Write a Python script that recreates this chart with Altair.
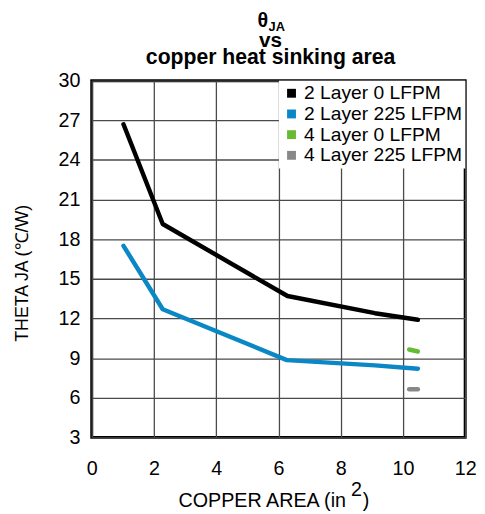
import altair as alt
import pandas as pd

# ---- data ----
series_names = ["2 Layer 0 LFPM", "2 Layer 225 LFPM", "4 Layer 0 LFPM", "4 Layer 225 LFPM"]
series_colors = ["#000000", "#0a87c5", "#66bb33", "#888888"]

area_2l_0lfpm = [1.02, 2.28, 6.29, 9.1, 10.48]
theta_2l_0lfpm = [26.7, 19.15, 13.7, 12.4, 11.9]

area_2l_225lfpm = [1.02, 2.28, 6.27, 9.1, 10.48]
theta_2l_225lfpm = [17.5, 12.7, 8.85, 8.45, 8.2]

area_4l_0lfpm = [10.2, 10.48]
theta_4l_0lfpm = [9.65, 9.5]

area_4l_225lfpm = [10.2, 10.48]
theta_4l_225lfpm = [6.64, 6.64]

x_ticks = [0, 2, 4, 6, 8, 10, 12]
y_ticks = [3, 6, 9, 12, 15, 18, 21, 24, 27, 30]

rows = []
for name, xs, ys in zip(
    series_names,
    [area_2l_0lfpm, area_2l_225lfpm, area_4l_0lfpm, area_4l_225lfpm],
    [theta_2l_0lfpm, theta_2l_225lfpm, theta_4l_0lfpm, theta_4l_225lfpm],
):
    for i, (x, y) in enumerate(zip(xs, ys)):
        rows.append({"series": name, "area": x, "theta": y, "order": i})
df = pd.DataFrame(rows)

W, H = 379, 362
FONT = "Liberation Sans"

x_enc = alt.X(
    "area:Q",
    scale=alt.Scale(domain=[0, 12], nice=False, zero=False),
    axis=alt.Axis(values=x_ticks, title=None, labelFontSize=20, labelFont=FONT,
                  labelColor="black", labelPadding=22, ticks=False, domain=False,
                  labelFlush=False),
)
y_enc = alt.Y(
    "theta:Q",
    scale=alt.Scale(domain=[3, 30], nice=False, zero=False),
    axis=alt.Axis(values=y_ticks, title="THETA JA (\u2103/W)", labelFontSize=20,
                  labelFont=FONT, labelColor="black", labelPadding=12, ticks=False,
                  domain=False, labelFlush=False, titleFont=FONT, titleFontSize=18,
                  titleFontWeight="normal", titleColor="black", titlePadding=27,
                  titleY=195),
)
color_scale = alt.Scale(domain=series_names, range=series_colors)
legend_cfg = dict(title=None, orient="top-right", offset=0, padding=3,
                  fillColor="white", symbolType="square", symbolSize=81,
                  symbolStrokeWidth=0, symbolOpacity=1, labelFontSize=19.5,
                  labelFont=FONT, labelColor="black", labelLimit=400, rowPadding=0,
                  labelOffset=3)

# legend-only layer (no rows drawn) so the legend shows filled squares
legend_layer = alt.Chart(df).transform_filter("false").mark_square(
    filled=True, opacity=1
).encode(
    x=x_enc,
    y=y_enc,
    color=alt.Color("series:N", scale=color_scale, legend=alt.Legend(**legend_cfg)),
)

lines = alt.Chart(df).mark_line(strokeWidth=4.5, strokeCap="round", strokeJoin="round").encode(
    x=x_enc,
    y=y_enc,
    color=alt.Color("series:N", scale=color_scale, legend=alt.Legend(**legend_cfg)),
    order="order:Q",
)


def label(text, x, y, size, weight="normal", align="center"):
    return alt.Chart(alt.Data(values=[{}])).mark_text(
        text=text, font=FONT, fontSize=size, fontWeight=weight, align=align,
        baseline="alphabetic", color="black",
    ).encode(x=alt.value(x), y=alt.value(y))


texts = [
    label("\u03b8", 179, -54, 20, "bold", "right"),
    label("JA", 179.5, -50, 13, "bold", "left"),
    label("vs", 181.5, -34, 21, "bold"),
    label("copper heat sinking area", 181.5, -17, 21.5, "bold"),
    label("COPPER AREA (in", 258, H + 71, 20, "normal", "right"),
    label("2", 263, H + 59, 20, "normal", "left"),
    label(")", 275, H + 71, 20, "normal", "left"),
]

chart = alt.layer(legend_layer, lines, *texts).properties(
    width=W, height=H,
    padding={"left": 5, "top": 0, "right": 0, "bottom": 0},
).configure_view(
    stroke="black", strokeWidth=3
).configure_axis(
    gridColor="#4a4a4a", gridWidth=1.3, gridOpacity=1
)

chart.save("out.html", embed_options={"renderer": "svg", "actions": False})
